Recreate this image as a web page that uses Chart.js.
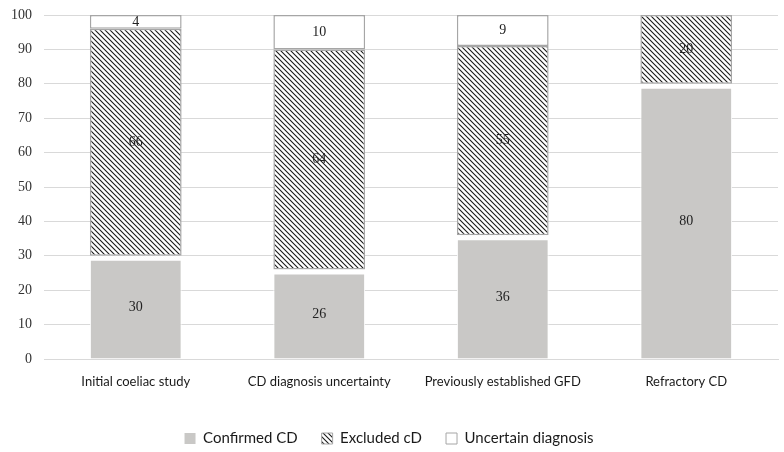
<!DOCTYPE html>
<html>
<head>
<meta charset="utf-8">
<script src="https://cdn.jsdelivr.net/npm/chart.js@4/dist/chart.umd.min.js"></script>
<style>
  html, body { margin: 0; padding: 0; background: #fff; }
  #wrap { width: 784px; height: 452px; }
</style>
</head>
<body>
<div id="wrap"><canvas id="chart" width="784" height="452"></canvas></div>
<script>
// chart data
const categories = ['Initial coeliac study', 'CD diagnosis uncertainty', 'Previously established GFD', 'Refractory CD'];
const confirmedCD = [30, 26, 36, 80];
const excludedCD = [66, 64, 55, 20];
const uncertainDiagnosis = [4, 10, 9, 0];
const yTicks = [0, 10, 20, 30, 40, 50, 60, 70, 80, 90, 100];

// diagonal hatch fill like the original
function makeHatch() {
  const s = 5;
  const c = document.createElement('canvas');
  c.width = s;
  c.height = s;
  const g = c.getContext('2d');
  g.fillStyle = '#fff';
  g.fillRect(0, 0, s, s);
  g.strokeStyle = '#1a1a1a';
  g.lineWidth = 1.1;
  g.beginPath();
  g.moveTo(-1, -1); g.lineTo(s + 1, s + 1);
  g.moveTo(-1, s - 1); g.lineTo(1, s + 1);
  g.moveTo(s - 1, -1); g.lineTo(s + 1, 1);
  g.stroke();
  return g.createPattern(c, 'repeat');
}
const hatch = makeHatch();

// draw the numbers inside each segment
const valueLabels = {
  id: 'valueLabels',
  afterDatasetsDraw(chart) {
    const ctx = chart.ctx;
    ctx.save();
    ctx.font = '14px "Liberation Serif", serif';
    ctx.fillStyle = '#222';
    ctx.textAlign = 'center';
    ctx.textBaseline = 'middle';
    chart.data.datasets.forEach((ds, i) => {
      const meta = chart.getDatasetMeta(i);
      meta.data.forEach((bar, j) => {
        const v = ds.data[j];
        if (!v) return;
        const p = bar.getProps(['x', 'y', 'base'], true);
        ctx.fillText(String(v), p.x, (p.y + p.base) / 2);
      });
    });
    ctx.restore();
  }
};

new Chart(document.getElementById('chart'), {
  type: 'bar',
  data: {
    labels: categories,
    datasets: [
      {
        label: 'Confirmed CD',
        data: confirmedCD,
        backgroundColor: '#c9c8c6',
        borderColor: '#ffffff',
        borderWidth: { top: 5, left: 1, right: 1 },
        borderSkipped: 'bottom'
      },
      {
        label: 'Excluded cD',
        data: excludedCD,
        backgroundColor: hatch,
        borderColor: '#a6a6a6',
        borderWidth: 1.5,
        borderSkipped: false
      },
      {
        label: 'Uncertain diagnosis',
        data: uncertainDiagnosis,
        backgroundColor: '#ffffff',
        borderColor: '#a6a6a6',
        borderWidth: 1.5,
        borderSkipped: false
      }
    ]
  },
  options: {
    responsive: false,
    animation: false,
    devicePixelRatio: 1,
    categoryPercentage: 1,
    barPercentage: 0.5,
    layout: { padding: { top: 15, right: 6, left: 0, bottom: -4 } },
    scales: {
      x: {
        stacked: true,
        grid: { display: false },
        border: { display: true, color: '#d9d9d9' },
        ticks: { color: '#1a1a1a', font: { family: 'Lato', size: 13 }, padding: 7 },
        afterFit(scale) { scale.height = 48; }
      },
      y: {
        stacked: true,
        min: 0,
        max: 100,
        afterBuildTicks(scale) { scale.ticks = yTicks.map(v => ({ value: v })); },
        grid: { color: '#d9d9d9', drawTicks: false },
        border: { display: false },
        ticks: { color: '#333', font: { family: 'Liberation Serif', size: 14 }, padding: 12 },
        afterFit(scale) {
          scale.width = 44;
          scale.paddingTop = 0;
          scale.paddingBottom = 0;
        }
      }
    },
    plugins: {
      tooltip: { enabled: false },
      legend: {
        position: 'bottom',
        labels: {
          color: '#1a1a1a',
          font: { family: 'Lato', size: 15 },
          boxWidth: 11,
          boxHeight: 11,
          padding: 24,
          generateLabels(chart) {
            const items = Chart.defaults.plugins.legend.labels.generateLabels(chart);
            items[0].lineWidth = 0;
            items[1].lineWidth = 1;
            items[2].lineWidth = 1;
            return items;
          }
        }
      }
    }
  },
  plugins: [valueLabels]
});
</script>
</body>
</html>
